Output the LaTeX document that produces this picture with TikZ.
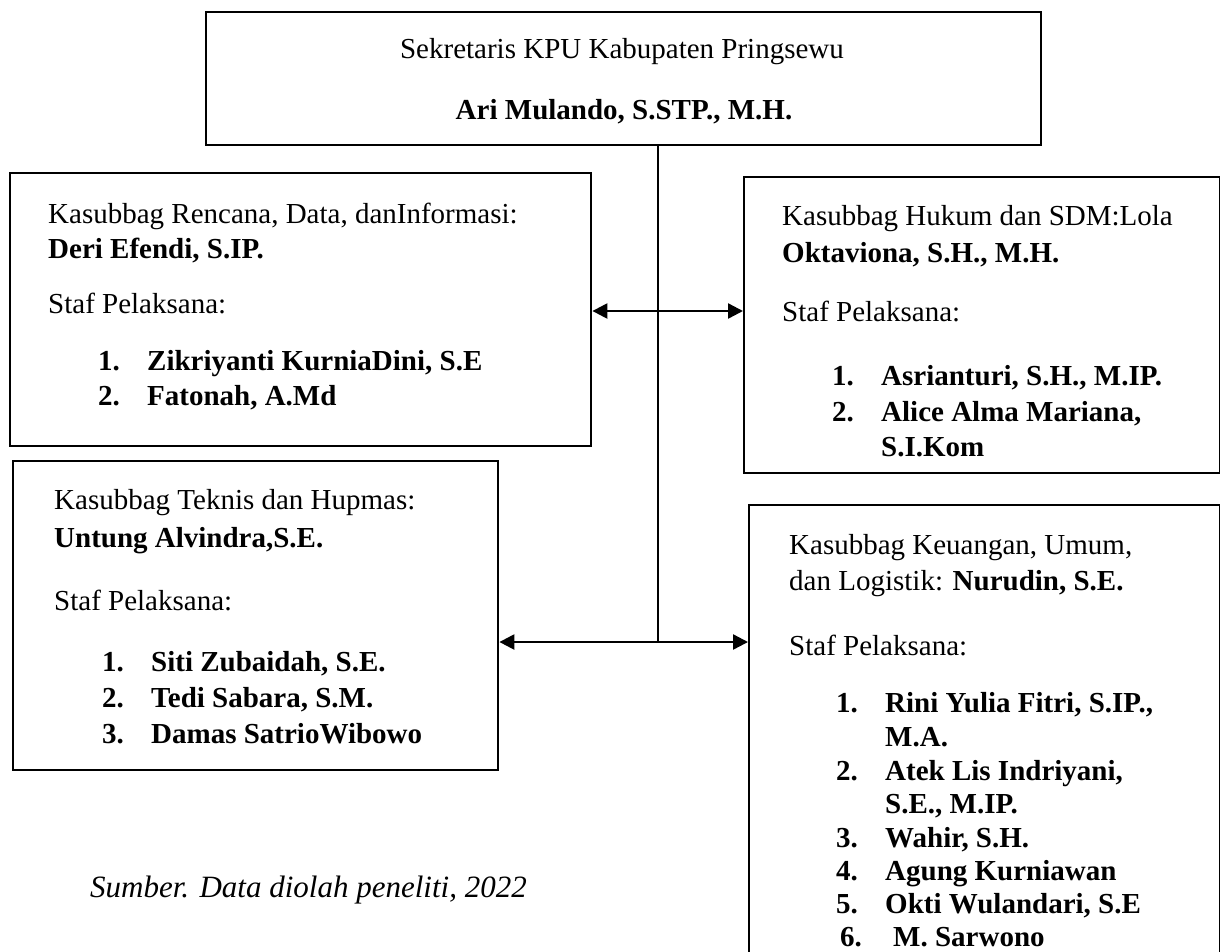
\documentclass[tikz,border=0pt]{standalone}
\usepackage{fontspec}
\setmainfont{Liberation Serif}
\usetikzlibrary{arrows.meta}
\newcommand\itm[2]{\makebox[49pt][l]{\textbf{#1}}\textbf{#2}}
\begin{document}
\begin{tikzpicture}[x=1pt,y=-1pt,
  box/.style={draw=black,line width=2.4pt},
  txt/.style={inner sep=0pt,anchor=base west,font=\fontsize{29}{35}\selectfont},
  ctxt/.style={txt,anchor=base},
  conn/.style={line width=2.4pt},
  tip/.style={-{Triangle[length=15pt,width=15pt]}},
  dtip/.style={{Triangle[length=15pt,width=15pt]}-{Triangle[length=15pt,width=15pt]}}]
\useasboundingbox (0,0) rectangle (1220,951);
\clip (0,0) rectangle (1220,951);
% boxes
\node[box,anchor=north west,minimum width=835pt,minimum height=133pt,inner sep=0pt] (top) at (205,11) {};
\node[box,anchor=north west,minimum width=581pt,minimum height=273pt,inner sep=0pt] (b1) at (9,172) {};
\node[box,anchor=north west,minimum width=476pt,minimum height=296pt,inner sep=0pt] (b2) at (743,176) {};
\node[box,anchor=north west,minimum width=485pt,minimum height=309pt,inner sep=0pt] (b3) at (12,460) {};
\node[box,anchor=north west,minimum width=471pt,minimum height=470pt,inner sep=0pt] (b4) at (748,504) {};
% top texts
\node[ctxt] (t1) at (622,58) {Sekretaris KPU Kabupaten Pringsewu};
\node[ctxt] (t2) at (624,119) {\textbf{Ari Mulando, S.STP., M.H.}};
% box 1
\node[txt] (a1) at (48,223) {Kasubbag Rencana, Data, danInformasi:};
\node[txt] (a2) at (48,258) {\textbf{Deri Efendi, S.IP.}};
\node[txt] (a3) at (48,313) {Staf Pelaksana:};
\node[txt] (a4) at (98,370) {\itm{1.}{Zikriyanti KurniaDini, S.E}};
\node[txt] (a5) at (98,405) {\itm{2.}{Fatonah, A.Md}};
% box 2
\node[txt] (c1) at (782,225) {Kasubbag Hukum dan SDM:Lola};
\node[txt] (c2) at (782,262) {\textbf{Oktaviona, S.H., M.H.}};
\node[txt] (c3) at (782,321) {Staf Pelaksana:};
\node[txt] (c4) at (832,385) {\itm{1.}{Asrianturi, S.H., M.IP.}};
\node[txt] (c5) at (832,421) {\itm{2.}{Alice Alma Mariana,}};
\node[txt] (c6) at (881,456) {\textbf{S.I.Kom}};
% box 3
\node[txt] (d1) at (54,509) {Kasubbag Teknis dan Hupmas:};
\node[txt] (d2) at (54,547) {\textbf{Untung Alvindra,S.E.}};
\node[txt] (d3) at (54,610) {Staf Pelaksana:};
\node[txt] (d4) at (102,671) {\itm{1.}{Siti Zubaidah, S.E.}};
\node[txt] (d5) at (102,707) {\itm{2.}{Tedi Sabara, S.M.}};
\node[txt] (d6) at (102,743) {\itm{3.}{Damas SatrioWibowo}};
% box 4
\node[txt] (e1) at (789,554) {Kasubbag Keuangan, Umum,};
\node[txt] (e2) at (789,590) {dan Logistik: \textbf{Nurudin, S.E.}};
\node[txt] (e3) at (789,655) {Staf Pelaksana:};
\node[txt] (e4) at (836,712) {\itm{1.}{Rini Yulia Fitri, S.IP.,}};
\node[txt] (e5) at (885,746) {\textbf{M.A.}};
\node[txt] (e6) at (836,780) {\itm{2.}{Atek Lis Indriyani,}};
\node[txt] (e7) at (885,813) {\textbf{S.E., M.IP.}};
\node[txt] (e8) at (836,847) {\itm{3.}{Wahir, S.H.}};
\node[txt] (e9) at (836,880) {\itm{4.}{Agung Kurniawan}};
\node[txt] (e10) at (836,913) {\itm{5.}{Okti Wulandari, S.E}};
\node[txt] (e11) at (840,946) {\makebox[53pt][l]{\textbf{6.}}\textbf{M. Sarwono}};
% source
\node[txt,font=\fontsize{31}{37}\selectfont] (src) at (90,897) {\textit{Sumber. Data diolah peneliti, 2022}};
% connectors
\coordinate (j) at (658,642);
\coordinate (m) at (658,311);
\draw[conn] (top.south -| j) -- (j);
\draw[conn,dtip] (b1.east |- m) -- (b2.west |- m);
\draw[conn,tip] (j) -- (b3.east |- j);
\draw[conn,tip] (j) -- (b4.west |- j);
\end{tikzpicture}
\end{document}
